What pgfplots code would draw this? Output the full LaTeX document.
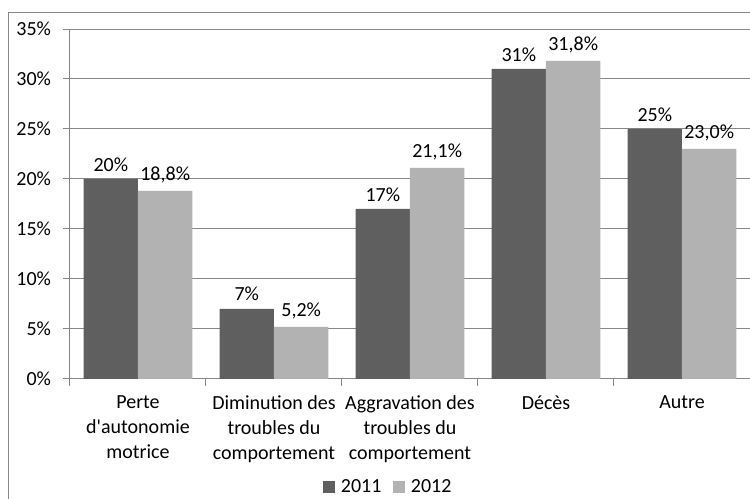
\documentclass[border=0pt]{standalone}
\usepackage{pgfplots}
\pgfplotsset{compat=1.18}
\usepackage{fontspec}
\setmainfont{Carlito}
\definecolor{dark}{HTML}{5F5F5F}
\definecolor{light}{HTML}{B2B2B2}
\definecolor{gridgray}{HTML}{878787}

\begin{document}
\fontsize{12}{15}\selectfont
\begin{tikzpicture}[font=\fontsize{12}{15}\selectfont]
\begin{axis}[
  scale only axis,
  width=408pt, height=210pt,
  xmin=-0.5, xmax=4.5,
  ymin=0, ymax=35,
  ytick={0,5,...,35},
  yticklabels={0\%,5\%,10\%,15\%,20\%,25\%,30\%,35\%},
  xtick={0,...,4},
  xticklabels={
    {Perte\\d\textquotesingle autonomie\\motrice},
    {Diminution des\\troubles du\\comportement},
    {Aggravation des\\troubles du\\comportement},
    {Décès},
    {Autre}},
  minor xtick={-0.5,0.5,...,4.5},
  every major x tick/.append style={draw=none},
  axis x line*=bottom,
  axis y line*=left,
  axis line style={-, gridgray, line width=0.6pt},
  tick align=outside,
  major tick length=4.2pt,
  minor tick length=4.2pt,
  tick style={gridgray, line width=0.6pt},
  ymajorgrids,
  major grid style={gridgray, line width=0.6pt},
  yticklabel style={xshift=-3pt},
  xticklabel style={align=center, font=\fontsize{12}{15}\selectfont, yshift=-1.5pt},
  ybar=0pt,
  bar width=0.4,
  nodes near coords,
  point meta=explicit symbolic,
  every node near coord/.append style={black, inner sep=1pt, yshift=3.5pt},
  legend style={
    draw=none, fill=none,
    at={(0.469,-0.31)}, anchor=center,
    legend columns=-1,
    /tikz/every even column/.append style={column sep=5pt},
    /tikz/every odd column/.append style={column sep=1.5pt},
  },
  legend image code/.code={\fill[#1] (0pt,-3.6pt) rectangle (7.2pt,3.6pt);},
]
\addplot[fill=dark, draw=none] coordinates {
  (0,20)[20\%]
  (1,7)[7\%]
  (2,17)[17\%]
  (3,31)[31\%]
  (4,25)[25\%]
};
\addplot[fill=light, draw=none] coordinates {
  (0,18.8)[18,8\%]
  (1,5.2)[5,2\%]
  (2,21.1)[21,1\%]
  (3,31.8)[31,8\%]
  (4,23.0)[23,0\%]
};
\legend{2011,2012}
\end{axis}
\begin{scope}
  \clip (-42pt,227.4pt) rectangle (408pt,-72pt);
  \draw[gridgray, line width=0.6pt] (-36.6pt,-90pt) -- (-36.6pt,219.6pt) -- (430pt,219.6pt);
\end{scope}
\pgfresetboundingbox
\path[use as bounding box] (-42pt,227.4pt) rectangle (408pt,-72pt);
\end{tikzpicture}
\end{document}
